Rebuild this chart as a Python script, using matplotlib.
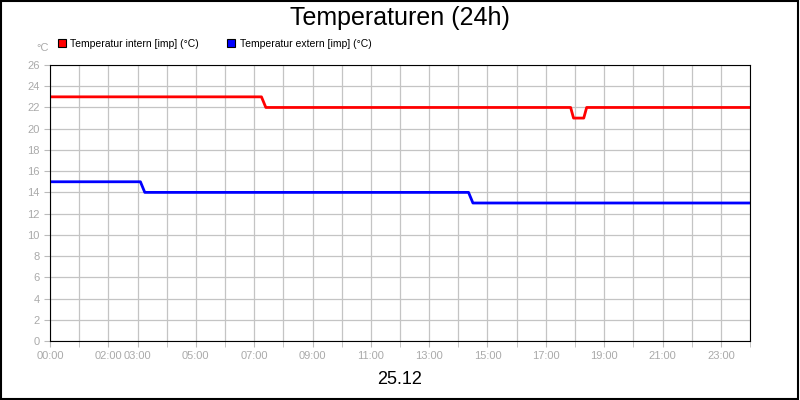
import matplotlib
matplotlib.use("Agg")
import matplotlib.pyplot as plt
from matplotlib.patches import Rectangle

plt.rcParams["font.family"] = "Liberation Sans"

# data (hours of day, °C)
intern_t = [0, 7.25, 7.4, 17.85, 17.95, 18.3, 18.4, 24]
intern_v = [23, 23, 22, 22, 21, 21, 22, 22]
extern_t = [0, 3.1, 3.25, 14.35, 14.5, 24]
extern_v = [15, 15, 14, 14, 13, 13]
tick_hours = [0, 2, 3, 5, 7, 9, 11, 13, 15, 17, 19, 21, 23]
tick_labels = ["%02d:00" % h for h in tick_hours]

fig = plt.figure(figsize=(8, 4), dpi=100)
fig.patches.append(Rectangle((0.001, 0.002), 0.997, 0.996, transform=fig.transFigure,
                             fill=False, edgecolor="black", lw=1.5))
ax = fig.add_axes([0.0625, 0.1475, 0.875, 0.69])

ax.plot(intern_t, intern_v, color="#ff0000", lw=2)
ax.plot(extern_t, extern_v, color="#0000ff", lw=2)

ax.set_xlim(0, 24)
ax.set_ylim(0, 26)
ax.set_yticks(range(0, 27, 2))
ax.set_xticks(range(0, 25), minor=True)
ax.set_xticks(tick_hours)
ax.set_xticklabels(tick_labels)
ax.grid(True, which="both", color="#c4c4c4", lw=0.9)
ax.set_axisbelow(True)
ax.tick_params(which="both", colors="#bbbbbb", labelcolor="#aaaaaa", labelsize=8, length=4)
for s in ax.spines.values():
    s.set_color("black")

fig.text(0.5, 0.955, "Temperaturen (24h)", ha="center", va="center", fontsize=18)
fig.text(0.5, 0.05, "25.12", ha="center", va="center", fontsize=13)
fig.text(0.053, 0.88, "°C", ha="center", va="center", fontsize=8, color="#aaaaaa")

fig.patches.append(Rectangle((0.072, 0.882), 0.01, 0.02, transform=fig.transFigure,
                             facecolor="#ff0000", edgecolor="black", lw=0.8))
fig.text(0.088, 0.891, "Temperatur intern [imp] (°C)", va="center", fontsize=7.5)
fig.patches.append(Rectangle((0.284, 0.882), 0.01, 0.02, transform=fig.transFigure,
                             facecolor="#0000ff", edgecolor="black", lw=0.8))
fig.text(0.3, 0.891, "Temperatur extern [imp] (°C)", va="center", fontsize=7.5)

fig.savefig("out.png", dpi=100)
